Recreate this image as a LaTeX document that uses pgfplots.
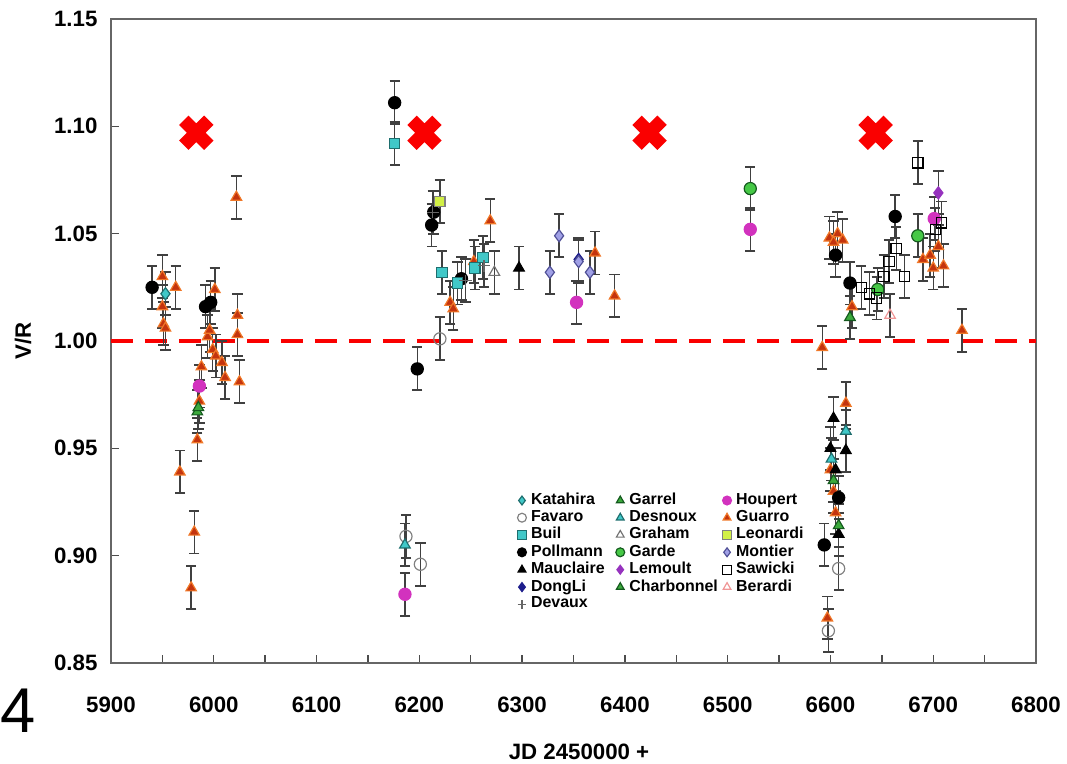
\documentclass[border=0pt]{standalone}
\usepackage{fontspec}
\setmainfont{Liberation Sans}
\usepackage{pgfplots}
\pgfplotsset{compat=1.18}
\definecolor{guarroF}{RGB}{196,52,14}
\definecolor{guarroD}{RGB}{240,120,40}
\definecolor{cyanF}{RGB}{64,200,200}
\definecolor{cyanD}{RGB}{30,110,110}
\definecolor{greenF}{RGB}{60,170,60}
\definecolor{greenD}{RGB}{20,90,30}
\definecolor{gardeF}{RGB}{70,200,70}
\definecolor{houpF}{RGB}{210,50,190}
\definecolor{lemF}{RGB}{150,50,190}
\definecolor{leoF}{RGB}{210,240,70}
\definecolor{montF}{RGB}{160,160,230}
\definecolor{montD}{RGB}{80,80,150}
\definecolor{dongF}{RGB}{30,30,140}
\definecolor{berD}{RGB}{240,150,150}
\definecolor{xred}{RGB}{250,0,0}
\begin{document}
\begin{tikzpicture}
\path[use as bounding box] (-1.665cm,-1.515cm) rectangle ++(16.005cm,11.46cm);
\begin{axis}[
  at={(0,0)}, anchor=south west,
  scale only axis, width=13.875cm, height=9.66cm,
  xmin=5900, xmax=6800, ymin=0.85, ymax=1.15,
  axis line style={black!60, line width=0.9pt},
  xtick={5900,6000,6100,6200,6300,6400,6500,6600,6700,6800},
  xticklabels={5900,6000,6100,6200,6300,6400,6500,6600,6700,6800},
  minor xtick={5950,6050,6150,6250,6350,6450,6550,6650,6750},
  ytick={0.85,0.9,0.95,1,1.05,1.1,1.15},
  yticklabels={0.85,0.90,0.95,1.00,1.05,1.10,1.15},
  tick align=inside, major tick length=0.12cm, minor tick length=0.12cm,
  xtick pos=bottom, ytick pos=left,
  every tick/.style={black!70, line width=0.6pt},
  ticklabel style={font=\bfseries\fontsize{9.5}{11}\selectfont},
  xticklabel style={yshift=-0.38cm},
  yticklabel style={xshift=-0.08cm},
  xlabel={JD 2450000 +}, ylabel={V/R},
  label style={font=\bfseries\fontsize{9.5}{11}\selectfont},
  xlabel style={at={(axis description cs:0.506,-0.138)}, anchor=center},
  ylabel style={at={(axis description cs:-0.095,0.5)}, anchor=center},
  clip=false,
  error bars/y dir=both, error bars/y fixed=0.01,
  error bars/error bar style={black!75, line width=0.6pt},
  error bars/error mark options={rotate=90, black!75, line width=0.8pt, mark size=2.2pt},
  every axis plot/.append style={only marks, mark size=2.6pt, line width=0.5pt},
  legend style={at={(axis description cs:0.439,0.272)}, anchor=north west,
    draw=none, fill=none, inner sep=0pt, row sep=-3pt,
    font=\bfseries\fontsize{6.8}{7.5}\selectfont,
    cells={anchor=west}},
  legend columns=3,
  legend image code/.code={\draw[mark size=1.9pt,#1] plot coordinates {(0.1cm,0cm)};},
]
% dashed line
\addplot[forget plot, no marks, sharp plot, error bars/y dir=none, xred, line width=0.065cm, dash pattern=on 0.33cm off 0.18cm] coordinates {(5900,1) (6800,1)};
% Guarro
\addplot[forget plot, mark=triangle*, mark options={fill=guarroF, draw=guarroD}] table {
5950 1.030
5950 1.016
5951 1.008
5953 1.006
5963 1.025
5967 0.939
5978 0.885
5981 0.911
5984 0.954
5986 0.972
5988 0.988
5994 1.002
5996 1.005
5999 0.996
6001 1.024
6002 0.993
6008 0.990
6011 0.983
6022 1.067
6023 1.012
6023 1.003
6025 0.981
6230 1.018
6233 1.015
6253 1.037
6269 1.056
6371 1.041
6390 1.021
6592 0.997
6599 1.048
6603 1.046
6607 1.050
6612 1.047
6597 0.871
6600 0.940
6603 0.930
6605 0.920
6615 0.971
6621 1.016
6690 1.038
6697 1.040
6700 1.034
6705 1.044
6710 1.035
6728 1.005
};
% Pollmann
\addplot[forget plot, mark=*, mark options={fill=black, draw=black}] table {
5940 1.025
5992 1.016
5997 1.018
6176 1.111
6198 0.987
6212 1.054
6214 1.060
6241 1.029
6605 1.040
6594 0.905
6608 0.927
6619 1.027
6663 1.058
};
% Katahira
\addplot[forget plot, mark=diamond*, mark options={fill=cyanF, draw=cyanD}] table {
5953 1.022
};
% Buil
\addplot[forget plot, mark=square*, mark size=2.2pt, mark options={fill=cyanF, draw=cyanD}] table {
6176 1.092
6222 1.032
6237 1.027
6254 1.034
6262 1.039
};
% Favaro
\addplot[forget plot, mark=o, mark options={draw=black!50}] table {
6187 0.909
6201 0.896
6220 1.001
6598 0.865
6608 0.894
};
% Mauclaire
\addplot[forget plot, mark=triangle*, mark options={fill=black, draw=black}] table {
6297 1.034
6603 0.964
6600 0.950
6608 0.910
6615 0.949
6605 0.940
};
% DongLi
\addplot[forget plot, mark=diamond*, mark options={fill=dongF, draw=dongF}] table {
6355 1.038
};
% Devaux
\addplot[forget plot, mark=+, mark options={draw=black!60}] table {
6213 1.060
6245 1.028
6263 1.035
};
% Garrel
\addplot[forget plot, mark=triangle*, mark options={fill=greenF, draw=greenD}] table {
5984 0.967
6619 1.011
6603 0.935
};
% Desnoux
\addplot[forget plot, mark=triangle*, mark options={fill=cyanF, draw=cyanD}] table {
6186 0.905
6615 0.958
6601 0.945
};
% Graham
\addplot[forget plot, mark=triangle, mark options={draw=black!55}] table {
6273 1.032
};
% Garde
\addplot[forget plot, mark=*, mark options={fill=gardeF, draw=greenD}] table {
6522 1.071
6646 1.024
6685 1.049
};
% Lemoult
\addplot[forget plot, mark=diamond*, mark options={fill=lemF, draw=lemF}] table {
6705 1.069
};
% Charbonnel
\addplot[forget plot, mark=triangle*, mark options={fill=greenF, draw=greenD}] table {
6608 0.914
5985 0.969
};
% Houpert
\addplot[forget plot, mark=*, mark options={fill=houpF, draw=houpF}] table {
5986 0.979
6186 0.882
6353 1.018
6522 1.052
6701 1.057
};
% Leonardi
\addplot[forget plot, mark=square*, mark size=2.2pt, mark options={fill=leoF, draw=black!50}] table {
6220 1.065
};
% Montier
\addplot[forget plot, mark=diamond*, mark options={fill=montF, draw=montD}] table {
6327 1.032
6336 1.049
6355 1.037
6366 1.032
};
% Sawicki
\addplot[forget plot, mark=square, mark size=2.2pt, mark options={draw=black}] table {
6630 1.025
6638 1.022
6645 1.020
6652 1.030
6657 1.037
6664 1.043
6672 1.030
6685 1.083
6702 1.052
6708 1.055
};
% Berardi
\addplot[forget plot, mark=triangle, mark options={draw=berD}] table {
6658 1.012
};
% big red crosses
\addplot[forget plot, error bars/y dir=none, mark=x, mark size=0.265cm, mark options={draw=xred, line width=0.2cm, line cap=butt}] coordinates {(5983,1.097) (6205,1.097) (6424,1.097) (6644,1.097)};
% legend (column-major order arranged row by row)
\addlegendimage{only marks, mark=diamond*, mark options={fill=cyanF, draw=cyanD}}\addlegendentry{\makebox[1.2cm][l]{Katahira}}
\addlegendimage{only marks, mark=triangle*, mark options={fill=greenF, draw=greenD}}\addlegendentry{\makebox[1.25cm][l]{Garrel}}
\addlegendimage{only marks, mark=*, mark options={fill=houpF, draw=houpF}}\addlegendentry{Houpert}
\addlegendimage{only marks, mark=o, mark options={draw=black!50}}\addlegendentry{Favaro}
\addlegendimage{only marks, mark=triangle*, mark options={fill=cyanF, draw=cyanD}}\addlegendentry{Desnoux}
\addlegendimage{only marks, mark=triangle*, mark options={fill=guarroF, draw=guarroD}}\addlegendentry{Guarro}
\addlegendimage{only marks, mark=square*, mark options={fill=cyanF, draw=cyanD}}\addlegendentry{Buil}
\addlegendimage{only marks, mark=triangle, mark options={draw=black!55}}\addlegendentry{Graham}
\addlegendimage{only marks, mark=square*, mark options={fill=leoF, draw=black!50}}\addlegendentry{Leonardi}
\addlegendimage{only marks, mark=*, mark options={fill=black, draw=black}}\addlegendentry{Pollmann}
\addlegendimage{only marks, mark=*, mark options={fill=gardeF, draw=greenD}}\addlegendentry{Garde}
\addlegendimage{only marks, mark=diamond*, mark options={fill=montF, draw=montD}}\addlegendentry{Montier}
\addlegendimage{only marks, mark=triangle*, mark options={fill=black, draw=black}}\addlegendentry{Mauclaire}
\addlegendimage{only marks, mark=diamond*, mark options={fill=lemF, draw=lemF}}\addlegendentry{Lemoult}
\addlegendimage{only marks, mark=square, mark options={draw=black}}\addlegendentry{Sawicki}
\addlegendimage{only marks, mark=diamond*, mark options={fill=dongF, draw=dongF}}\addlegendentry{DongLi}
\addlegendimage{only marks, mark=triangle*, mark options={fill=greenF, draw=greenD}}\addlegendentry{Charbonnel}
\addlegendimage{only marks, mark=triangle, mark options={draw=berD}}\addlegendentry{Berardi}
\addlegendimage{only marks, mark=+, mark options={draw=black!60}}\addlegendentry{Devaux}
\end{axis}
\node[font=\fontsize{27}{30}\selectfont, anchor=center] at (-1.39cm,-0.72cm) {4};
\end{tikzpicture}
\end{document}
